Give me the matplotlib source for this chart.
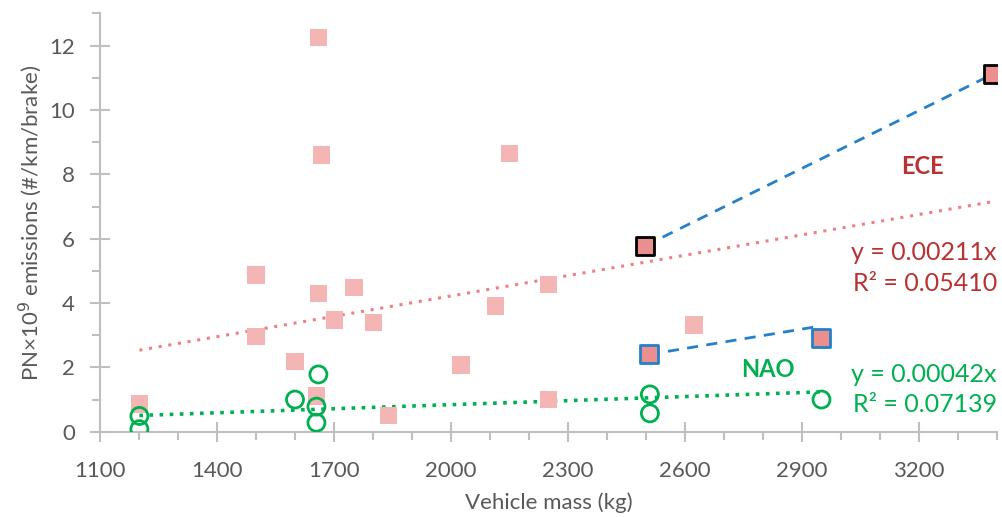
import matplotlib
matplotlib.use("Agg")
import matplotlib.pyplot as plt
from matplotlib.ticker import MultipleLocator
import numpy as np

plt.rcParams['font.family'] = ['Lato', 'DejaVu Sans']

# ECE brake pads (light squares)
ece_mass = [1660, 1668, 1500, 1660, 1751, 1500, 1701, 1801, 1600, 1655, 1201,
            1839, 2026, 2115, 2150, 2250, 2250, 2623]
ece_pn = [12.26, 8.6, 4.87, 4.30, 4.49, 2.97, 3.47, 3.40, 2.18, 1.11, 0.86,
          0.50, 2.07, 3.91, 8.65, 4.58, 1.0, 3.32]
# highlighted ECE vehicles
black_mass = [2498, 3390]
black_pn = [5.78, 11.12]
blue_mass = [2507, 2948]
blue_pn = [2.40, 2.92]
# dashed link for the blue pair
blue_link_mass = [2507, 2935]
blue_link_pn = [2.40, 3.26]

# NAO brake pads
nao_mass = [1201, 1201, 1600, 1660, 1655, 1655, 2510, 2510, 2950]
nao_pn = [0.49, 0.08, 1.0, 1.78, 0.78, 0.28, 1.16, 0.57, 1.0]

ece_slope = 0.00211
nao_slope = 0.00042
x_ticks = list(range(1100, 3401, 300))

pink = '#F4B5B5'
pink_dark = '#EB8E8E'
red_txt = '#B83232'
green = '#00B050'
blue = '#2580C8'
grey = '#BFBFBF'
tick_txt = '#595959'

fig = plt.figure(figsize=(10.03, 5.17), dpi=100)
ax = fig.add_axes([100 / 1003, 1 - 431.7 / 517, 897 / 1003, 418.2 / 517])

# trendlines through origin
all_ece_x = ece_mass + black_mass + blue_mass
xe = np.array([min(all_ece_x), max(all_ece_x)])
ax.plot(xe, ece_slope * xe, ls=(0, (1, 2.2)), color='#F08080', lw=2.2, zorder=2)
xn = np.array([min(nao_mass), max(nao_mass)])
ax.plot(xn, nao_slope * xn, ls=(0, (1, 1.8)), color=green, lw=2.6, zorder=2)

ax.scatter(ece_mass, ece_pn, marker='s', s=155, color=pink, edgecolor='none', zorder=3)
ax.plot(black_mass, black_pn, ls=(0, (4, 3)), color=blue, lw=2, zorder=4)
ax.plot(blue_link_mass, blue_link_pn, ls=(0, (4, 3)), color=blue, lw=2, zorder=4)
ax.scatter(black_mass, black_pn, marker='s', s=155, color=pink_dark, edgecolor='black',
           linewidth=2, zorder=5)
ax.scatter(blue_mass, blue_pn, marker='s', s=155, color=pink_dark, edgecolor=blue,
           linewidth=2, zorder=5)
ax.scatter(nao_mass, nao_pn, marker='o', s=150, facecolor='none', edgecolor=green,
           linewidth=2, zorder=5)

ax.set_xlim(1100, 3400)
ax.set_ylim(0, 13)
ax.set_xticks(x_ticks)
ax.xaxis.set_minor_locator(MultipleLocator(100))
ax.set_yticks(range(0, 13, 2))
ax.yaxis.set_minor_locator(MultipleLocator(1))

for s in ['top', 'right']:
    ax.spines[s].set_visible(False)
for s in ['left', 'bottom']:
    ax.spines[s].set_color(grey)
    ax.spines[s].set_linewidth(1.5)
ax.tick_params(which='major', direction='inout', length=14, width=1.5, color=grey,
               labelsize=16, labelcolor=tick_txt)
ax.tick_params(axis='x', which='major', pad=14)
ax.tick_params(axis='y', which='major', pad=11)
ax.tick_params(which='minor', direction='out', length=6, width=1.5, color=grey)

ax.set_xlabel('Vehicle mass (kg)', fontsize=16, color=tick_txt, labelpad=8)
ax.set_ylabel('PN×10$^9$ emissions (#/km/brake)', fontsize=16, color=tick_txt, labelpad=4)

ax.text(3210, 8.25, 'ECE', color=red_txt, fontsize=17, fontweight='bold', ha='center', va='center')
ax.text(3400, 5.56, 'y = 0.00211x', color=red_txt, fontsize=18, ha='right', va='center', clip_on=False)
ax.text(3400, 4.62, 'R² = 0.05410', color=red_txt, fontsize=18, ha='right', va='center', clip_on=False)
ax.text(2812, 1.92, 'NAO', color=green, fontsize=17, fontweight='bold', ha='center', va='center')
ax.text(3400, 1.77, 'y = 0.00042x', color=green, fontsize=18, ha='right', va='center', clip_on=False)
ax.text(3400, 0.83, 'R² = 0.07139', color=green, fontsize=18, ha='right', va='center', clip_on=False)

fig.savefig('out.png', dpi=100)
